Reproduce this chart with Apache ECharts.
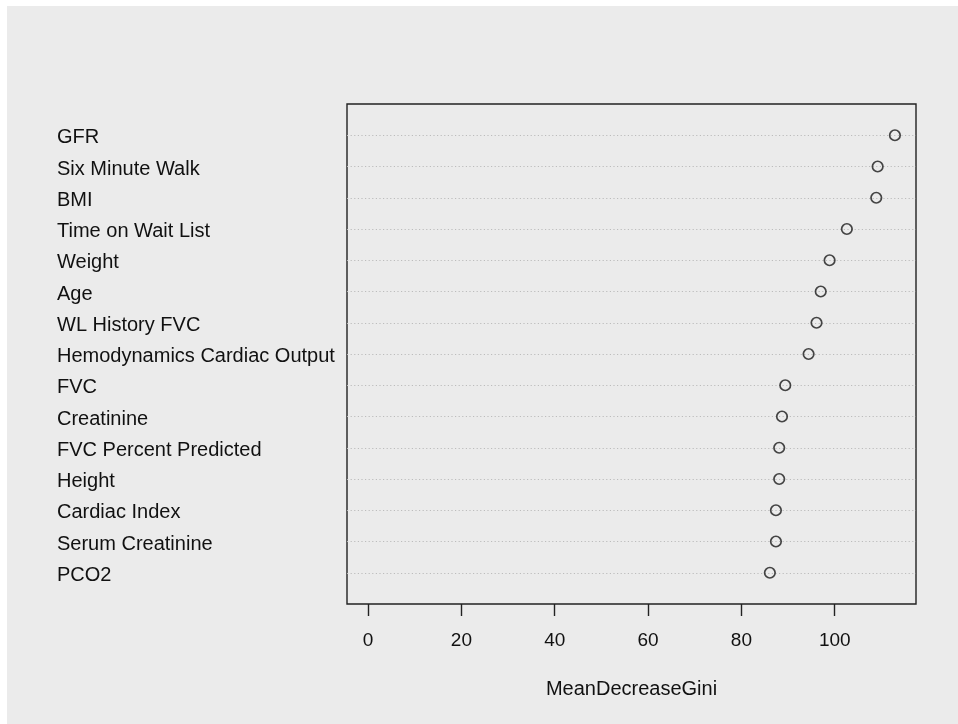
<!DOCTYPE html>
<html>
<head>
<meta charset="utf-8">
<style>
  html, body { margin: 0; padding: 0; background: #ffffff; }
  #chart { width: 958px; height: 724px; }
</style>
<script src="https://cdn.jsdelivr.net/npm/echarts@6/dist/echarts.min.js"></script>
</head>
<body>
<div id="chart"></div>
<script>
// Variable importance (random forest), listed top to bottom
const variables = [
  'GFR',
  'Six Minute Walk',
  'BMI',
  'Time on Wait List',
  'Weight',
  'Age',
  'WL History FVC',
  'Hemodynamics Cardiac Output',
  'FVC',
  'Creatinine',
  'FVC Percent Predicted',
  'Height',
  'Cardiac Index',
  'Serum Creatinine',
  'PCO2'
];
const meanDecreaseGini = [
  112.9, 109.2, 108.9, 102.6, 98.9, 97.0, 96.1, 94.4,
  89.4, 88.7, 88.1, 88.1, 87.4, 87.4, 86.1
];
const xTicks = [0, 20, 40, 60, 80, 100];

const FONT = '"Liberation Sans", Arial, Helvetica, sans-serif';
const n = variables.length;

// row position: first variable sits at the top (n), last at 1
const rowOf = i => n - i;
const rows = variables.map((_, i) => rowOf(i));
const points = meanDecreaseGini.map((v, i) => [v, rowOf(i)]);

// x range: 0..max widened by 4% on each side
const xMaxData = Math.max(...meanDecreaseGini);
const pad = xMaxData * 0.04;

const chart = echarts.init(document.getElementById('chart'), null, { renderer: 'canvas' });

chart.setOption({
  backgroundColor: '#ffffff',
  animation: false,
  graphic: [{
    type: 'rect',
    z: -100,
    silent: true,
    shape: { x: 7, y: 6, width: 951, height: 718 },
    style: { fill: '#ebebeb' }
  }],
  grid: {
    left: 347, top: 104, right: 42, bottom: 120,
    show: true,
    backgroundColor: 'transparent',
    borderColor: '#222',
    borderWidth: 1.4
  },
  xAxis: {
    type: 'value',
    min: 0 - pad,
    max: xMaxData + pad,
    name: 'MeanDecreaseGini',
    nameLocation: 'middle',
    nameGap: 75,
    nameTextStyle: { fontFamily: FONT, fontSize: 20, color: '#111' },
    axisLine: { show: false },
    splitLine: { show: false },
    axisTick: {
      show: true,
      customValues: xTicks,
      length: 12,
      lineStyle: { color: '#222', width: 1.4 }
    },
    axisLabel: {
      customValues: xTicks,
      margin: 27,
      fontFamily: FONT,
      fontSize: 19,
      color: '#111'
    }
  },
  yAxis: {
    type: 'value',
    min: 0,
    max: n + 1,
    axisLine: { show: false },
    axisTick: { show: false },
    splitLine: { show: false },
    axisLabel: {
      customValues: rows,
      formatter: v => '{v|' + (variables[n - v] || '') + '}',
      align: 'left',
      margin: 290,
      rich: {
        v: {
          fontFamily: FONT,
          fontSize: 20,
          color: '#111',
          padding: [5, 0, 0, 0]
        }
      }
    }
  },
  series: [{
    type: 'scatter',
    data: points,
    symbol: 'circle',
    symbolSize: 10.5,
    itemStyle: { color: 'transparent', borderColor: '#1a1a1a', borderWidth: 1.7 },
    z: 5,
    markLine: {
      silent: true,
      symbol: 'none',
      label: { show: false },
      lineStyle: { color: '#bcbcbc', type: [1.2, 2.4], width: 1 },
      data: rows.map(r => ({ yAxis: r }))
    }
  }]
});
</script>
</body>
</html>
